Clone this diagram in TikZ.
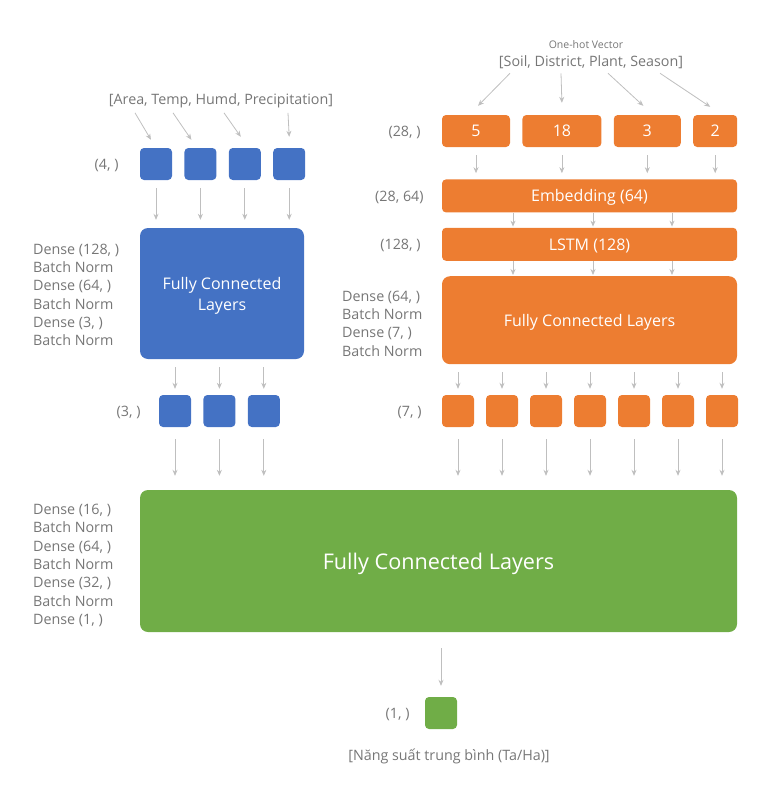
\documentclass[tikz,border=0pt]{standalone}
\usepackage{fontspec}
\setmainfont{Open Sans}
\usepackage{tikz}
\usetikzlibrary{arrows.meta, positioning}
\definecolor{fcblue}{HTML}{4472C4}
\definecolor{fcorange}{HTML}{ED7D31}
\definecolor{fcgreen}{HTML}{70AD47}
\definecolor{txtgray}{HTML}{767676}
\definecolor{arrgray}{HTML}{BFBFBF}
\tikzset{
    unit/.style={rectangle, rounded corners=4pt, minimum width=32pt, minimum height=32pt, inner sep=0pt, text=white, text depth=0pt, font=\fontsize{16}{18}\selectfont},
    layer/.style={rectangle, rounded corners=8pt, inner sep=0pt, text=white, text depth=0pt, align=center, font=\fontsize{16}{21}\selectfont},
    lbl/.style={text=txtgray, inner sep=0pt, align=left, yshift=-1.5pt, font=\fontsize{14.3}{18.3}\selectfont},
    arrow/.style={draw=arrgray, line width=0.8pt, -{Stealth[length=6pt, width=5pt]}},
}

\begin{document}
\begin{tikzpicture}[x=1pt, y=-1pt, node distance=12pt]
    \useasboundingbox (0,0) rectangle (782,790);

    % numeric branch
    \node [lbl] (numin) at (221,99) {[Area, Temp, Humd, Precipitation]};
    \node [unit, fill=fcblue] (A1) at (156,164) {};
    \node [unit, fill=fcblue, right=of A1] (A2) {};
    \node [unit, fill=fcblue, right=of A2] (A3) {};
    \node [unit, fill=fcblue, right=of A3] (A4) {};
    \node [lbl, left=21pt of A1] (Ashape) {(4, )};

    \node [layer, fill=fcblue, minimum width=164pt, minimum height=131pt] (FCA) at (222,293.5) {Fully Connected\\Layers};
    \node [lbl, anchor=west] (FCAtxt) at (33,293.5) {Dense (128, )\\Batch Norm\\Dense (64, )\\Batch Norm\\Dense (3, )\\Batch Norm};

    \node [unit, fill=fcblue] (C1) at (175,411) {};
    \node [unit, fill=fcblue, right=of C1] (C2) {};
    \node [unit, fill=fcblue, right=of C2] (C3) {};
    \node [lbl, left=18pt of C1] (Cshape) {(3, )};

    % categorical branch
    \node [lbl, font=\fontsize{10.5}{12}\selectfont] (onehot) at (586,43) {One-hot Vector};
    \node [lbl] (catin) at (591,61) {[Soil, District, Plant, Season]};
    \node [unit, fill=fcorange, minimum width=68pt] (B1) at (476,131) {5};
    \node [unit, fill=fcorange, minimum width=79pt, right=of B1] (B2) {18};
    \node [unit, fill=fcorange, minimum width=67pt, right=of B2] (B3) {3};
    \node [unit, fill=fcorange, minimum width=44pt, right=of B3] (B4) {2};
    \node [lbl, left=21pt of B1] (Bshape) {(28, )};

    \node [layer, fill=fcorange, rounded corners=4pt, minimum width=295pt, minimum height=33pt, below right=32pt and 0pt of B1.south west] (emb) {Embedding (64)};
    \node [lbl, left=18pt of emb.west] (embshape) {(28, 64)};
    \node [layer, fill=fcorange, rounded corners=4pt, minimum width=295pt, minimum height=33pt, below=15pt of emb] (lstm) {LSTM (128)};
    \node [lbl, left=21pt of lstm.west] (lstmshape) {(128, )};
    \node [layer, fill=fcorange, minimum width=295pt, minimum height=88pt, below=15pt of lstm] (FCB) {Fully Connected Layers};
    \node [lbl, anchor=west] (FCBtxt) at (342,322) {Dense (64, )\\Batch Norm\\Dense (7, )\\Batch Norm};

    \node [unit, fill=fcorange] (D1) at (458,411) {};
    \node [unit, fill=fcorange, right=11.6pt of D1] (D2) {};
    \node [unit, fill=fcorange, right=11.6pt of D2] (D3) {};
    \node [unit, fill=fcorange, right=11.6pt of D3] (D4) {};
    \node [unit, fill=fcorange, right=11.6pt of D4] (D5) {};
    \node [unit, fill=fcorange, right=11.6pt of D5] (D6) {};
    \node [unit, fill=fcorange, right=11.6pt of D6] (D7) {};
    \node [lbl, left=20pt of D1] (Dshape) {(7, )};

    % merged head
    \node [layer, fill=fcgreen, minimum width=597pt, minimum height=142pt, font=\fontsize{21.6}{26}\selectfont] (FCC) at (438.5,561) {Fully Connected Layers};
    \node [lbl, anchor=west] (FCCtxt) at (33,564) {Dense (16, )\\Batch Norm\\Dense (64, )\\Batch Norm\\Dense (32, )\\Batch Norm\\Dense (1, )};
    \node [unit, fill=fcgreen] (G) at (441,713) {};
    \node [lbl, left=15pt of G] (Gshape) {(1, )};
    \node [lbl] (yield) at (449,755) {[Năng suất trung bình (Ta/Ha)]};

    \draw [arrow] ([xshift=-86pt, yshift=-5pt]numin.south) -- ([xshift=-5pt, yshift=8pt]A1.north);
    \draw [arrow] ([xshift=-48pt, yshift=-5pt]numin.south) -- ([xshift=-9pt, yshift=8pt]A2.north);
    \draw [arrow] ([xshift=3pt, yshift=-5pt]numin.south) -- ([xshift=-4pt, yshift=11pt]A3.north);
    \draw [arrow] ([xshift=67pt, yshift=-5pt]numin.south) -- ([yshift=11pt]A4.north);

    \draw [arrow, shorten <=8pt, shorten >=8pt] (A1) -- (A1 |- FCA.north);
    \draw [arrow, shorten <=8pt, shorten >=8pt] (A2) -- (A2 |- FCA.north);
    \draw [arrow, shorten <=8pt, shorten >=8pt] (A3) -- (A3 |- FCA.north);
    \draw [arrow, shorten <=8pt, shorten >=8pt] (A4) -- (A4 |- FCA.north);

    \draw [arrow, shorten <=8pt, shorten >=6pt] (C1 |- FCA.south) -- (C1);
    \draw [arrow, shorten <=8pt, shorten >=6pt] (C2 |- FCA.south) -- (C2);
    \draw [arrow, shorten <=8pt, shorten >=6pt] (C3 |- FCA.south) -- (C3);

    \draw [arrow, shorten <=12pt, shorten >=14pt] (C1) -- (C1 |- FCC.north);
    \draw [arrow, shorten <=12pt, shorten >=14pt] (C2) -- (C2 |- FCC.north);
    \draw [arrow, shorten <=12pt, shorten >=14pt] (C3) -- (C3 |- FCC.north);

    \draw [arrow] ([xshift=-81pt, yshift=-4pt]catin.south) -- ([xshift=2pt, yshift=9pt]B1.north);
    \draw [arrow] ([xshift=-30pt, yshift=-4pt]catin.south) -- ([yshift=12pt]B2.north);
    \draw [arrow] ([xshift=17pt, yshift=-4pt]catin.south) -- ([xshift=-4pt, yshift=9pt]B3.north);
    \draw [arrow] ([xshift=69pt, yshift=-4pt]catin.south) -- ([xshift=-5pt, yshift=8pt]B4.north);

    \draw [arrow, shorten <=8pt, shorten >=6pt] (B1) -- (B1 |- emb.north);
    \draw [arrow, shorten <=8pt, shorten >=6pt] (B2) -- (B2 |- emb.north);
    \draw [arrow, shorten <=8pt, shorten >=6pt] (B3) -- (B3 |- emb.north);
    \draw [arrow, shorten <=8pt, shorten >=6pt] (B4) -- (B4 |- emb.north);

    \draw [arrow, shorten >=1pt] (emb.south -| 513,0) -- (lstm.north -| 513,0);
    \draw [arrow, shorten >=1pt] (emb.south -| 593,0) -- (lstm.north -| 593,0);
    \draw [arrow, shorten >=1pt] (emb.south -| 672,0) -- (lstm.north -| 672,0);
    \draw [arrow, shorten >=1pt] (lstm.south -| 513,0) -- (FCB.north -| 513,0);
    \draw [arrow, shorten >=1pt] (lstm.south -| 593,0) -- (FCB.north -| 593,0);
    \draw [arrow, shorten >=1pt] (lstm.south -| 672,0) -- (FCB.north -| 672,0);

    \draw [arrow, shorten <=8pt, shorten >=6pt] (D1 |- FCB.south) -- (D1);
    \draw [arrow, shorten <=8pt, shorten >=6pt] (D2 |- FCB.south) -- (D2);
    \draw [arrow, shorten <=8pt, shorten >=6pt] (D3 |- FCB.south) -- (D3);
    \draw [arrow, shorten <=8pt, shorten >=6pt] (D4 |- FCB.south) -- (D4);
    \draw [arrow, shorten <=8pt, shorten >=6pt] (D5 |- FCB.south) -- (D5);
    \draw [arrow, shorten <=8pt, shorten >=6pt] (D6 |- FCB.south) -- (D6);
    \draw [arrow, shorten <=8pt, shorten >=6pt] (D7 |- FCB.south) -- (D7);

    \draw [arrow, shorten <=12pt, shorten >=14pt] (D1) -- (D1 |- FCC.north);
    \draw [arrow, shorten <=12pt, shorten >=14pt] (D2) -- (D2 |- FCC.north);
    \draw [arrow, shorten <=12pt, shorten >=14pt] (D3) -- (D3 |- FCC.north);
    \draw [arrow, shorten <=12pt, shorten >=14pt] (D4) -- (D4 |- FCC.north);
    \draw [arrow, shorten <=12pt, shorten >=14pt] (D5) -- (D5 |- FCC.north);
    \draw [arrow, shorten <=12pt, shorten >=14pt] (D6) -- (D6 |- FCC.north);
    \draw [arrow, shorten <=12pt, shorten >=14pt] (D7) -- (D7 |- FCC.north);

    \draw [arrow, shorten <=16pt, shorten >=11pt] (FCC.south -| G) -- (G);
\end{tikzpicture}
\end{document}
